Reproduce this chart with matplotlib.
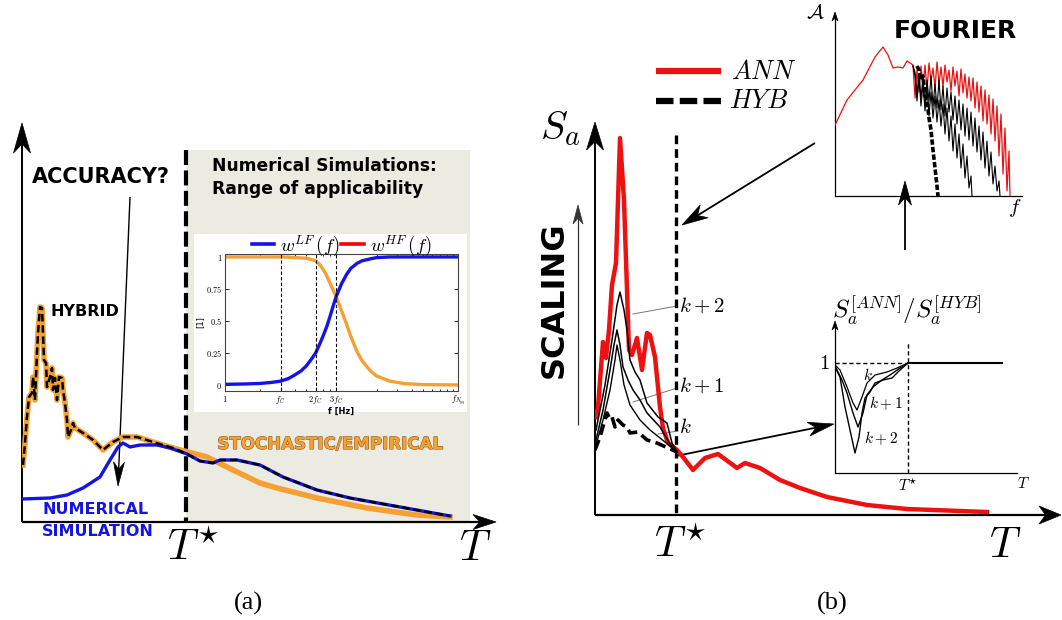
import matplotlib
matplotlib.use("Agg")
import numpy as np
import matplotlib.pyplot as plt
import matplotlib.patheffects as pe
from matplotlib.patches import Rectangle, Polygon
from matplotlib.lines import Line2D
from matplotlib.ticker import FixedLocator, FixedFormatter, LogLocator, NullFormatter

plt.rcParams["mathtext.fontset"] = "cm"
plt.rcParams["font.family"] = "DejaVu Sans"

W, H = 1062, 620
ORANGE = "#f5a033"
BLUE = "#1414e6"
RED = "#ee1111"

# ---- panel (a): schematic spectra (arbitrary units) ----
hyb_t = [1, 3, 5, 7, 10, 11, 13, 15, 16, 18, 20, 21, 22, 24, 25, 28, 30, 31, 33, 35, 37,
         40, 41, 43, 45, 46, 49, 51, 53, 61, 71, 81, 91, 101, 115, 131, 151, 165,
         178, 191, 198, 215, 238, 261, 295, 328, 378, 428]
hyb_sa = [57, 79, 105, 125, 129, 145, 122, 169, 189, 215, 214, 189, 162, 159, 135, 145, 154, 132, 144, 122, 145,
          144, 132, 119, 102, 85, 92, 99, 94, 89, 82, 72, 80, 85, 85, 80, 74, 68,
          61, 59, 62, 62, 57, 45, 32, 24, 15, 6]
stoch_t = [185, 195, 211, 238, 255, 295, 345, 395, 428]
stoch_sa = [65, 60, 52, 39, 34, 24, 14, 7, 5]
num_t = [0, 28, 45, 61, 78, 88, 96, 101, 108, 118, 135, 148, 165]
num_sa = [23, 24, 27, 34, 45, 62, 75, 79, 75, 77, 77, 74, 68]
t_star_a = 164

# inset: weighting functions
w_f = [1, 1.5, 2, 2.5, 3, 3.5, 4, 4.5, 5, 5.5, 6, 6.5, 7, 7.5, 8, 8.5, 9, 10, 11, 12,
       13.6, 15, 17.7, 20, 26, 35, 50, 100]
w_lf = [0.005, 0.008, 0.012, 0.02, 0.03, 0.05, 0.08, 0.11, 0.15, 0.2, 0.25, 0.32, 0.39, 0.46, 0.54, 0.62,
        0.69, 0.79, 0.86, 0.91, 0.95, 0.97, 0.985, 0.995, 1.0, 1.0, 1.0, 1.0]
w_hf = [1.0, 1.0, 1.0, 1.0, 1.0, 0.998, 0.995, 0.992, 0.99, 0.98, 0.97, 0.94, 0.9, 0.85, 0.79, 0.74,
        0.69, 0.58, 0.48, 0.38, 0.26, 0.19, 0.11, 0.07, 0.03, 0.01, 0.003, 0.0]
f_ticks = [1, 3, 6, 9, 100]
f_ticklabels = ["$1$", "$f_C$", "$2f_C$", "$3f_C$", "$f_{N_{yq}}$"]
w_ticks = [0, 0.25, 0.5, 0.75, 1]
w_ticklabels = ["$0$", "$0.25$", "$0.5$", "$0.75$", "$1$"]

# ---- panel (b): response spectra (arbitrary units) ----
ann_t = [1, 3, 8, 11, 14, 17, 21, 25, 29, 32, 34, 37, 42, 47, 52, 55, 60, 65, 68, 73, 82,
         88, 98, 110, 123, 142, 150, 165, 185, 205, 232, 272, 312, 392]
ann_sa = [98, 108, 173, 157, 185, 230, 252, 377, 315, 225, 165, 160, 177, 145, 182, 180, 158, 108, 87, 72, 65,
          58, 45, 57, 61, 47, 52, 47, 35, 27, 18, 10, 6, 3]
hybb_t = [0, 5, 9, 12, 15, 17, 20, 23, 28, 32, 35, 43, 52, 62, 73, 82]
hybb_sa = [65, 78, 92, 102, 96, 98, 88, 95, 90, 88, 82, 83, 75, 72, 67, 63]
k2_t = [1, 10, 17, 22, 25, 29, 32, 35, 40, 45, 48, 52, 63, 72, 77, 82]
k2_sa = [85, 130, 175, 210, 223, 205, 185, 155, 143, 135, 125, 112, 98, 92, 72, 63]
k1_t = [1, 8, 15, 19, 22, 25, 28, 33, 38, 45, 52, 65, 77, 82]
k1_sa = [75, 105, 145, 170, 185, 170, 148, 135, 125, 115, 102, 88, 68, 63]
k0_t = [1, 8, 15, 20, 22, 25, 29, 35, 45, 55, 65, 75, 82]
k0_sa = [70, 95, 125, 155, 170, 155, 130, 110, 95, 85, 77, 69, 63]

# Fourier amplitude inset
fa_red_f = [0, 12, 28, 40, 48, 53, 58, 63, 68, 72, 78,
            80, 82, 84, 86, 88, 90, 92, 94, 96, 98, 100, 102, 104, 106, 108, 110, 112, 114, 116, 118,
            120, 122, 124, 126, 128, 130, 132, 134, 136, 138, 140, 142, 144, 146, 148, 150, 152, 154,
            156, 158, 160, 162, 164, 166, 168, 170, 172, 174, 175]
fa_red = [71, 96, 116, 139, 149, 141, 128, 129, 128, 135, 131,
          98, 126, 104, 130, 110, 131, 106, 133, 115, 128, 108, 134, 112, 129, 109, 131, 114, 126, 105, 129,
          110, 125, 100, 127, 103, 122, 98, 119, 95, 118, 88, 114, 84, 110, 75, 106, 72, 101,
          62, 97, 55, 90, 40, 82, 22, 68, 5, 45, 0]
fa_k1_f = [78, 80, 82, 84, 86, 88, 90, 92, 94, 96, 98, 100, 102, 104, 106, 108, 110, 112, 114, 116,
           118, 120, 122, 124, 126, 128, 130, 132, 134, 136, 137]
fa_k1 = [130, 120, 95, 118, 90, 112, 85, 108, 80, 104, 78, 100, 74, 96, 70, 92, 62, 88, 55, 80,
         45, 72, 38, 62, 28, 52, 18, 40, 8, 20, 0]
fa_k2_f = [78, 80, 82, 84, 86, 88, 90, 92, 94, 96, 98, 100, 102, 104, 106, 108, 110, 112, 114, 116,
           118, 120, 122, 124, 126, 128, 130, 132, 134, 136, 138, 140, 142, 144, 146, 148, 150, 152,
           154, 156, 158, 160, 162, 164, 165]
fa_k2 = [130, 124, 100, 122, 98, 119, 92, 116, 95, 120, 90, 112, 88, 116, 86, 110, 80, 108, 84, 104,
         76, 100, 72, 96, 66, 92, 60, 88, 56, 84, 50, 78, 44, 70, 36, 64, 28, 55,
         20, 44, 12, 30, 5, 15, 0]
fa_hyb_f = [82, 84, 86, 88, 90, 92, 94, 96, 98, 100, 102, 103]
fa_hyb = [130, 126, 116, 120, 100, 96, 78, 66, 46, 28, 10, 0]

# ratio inset
rt_k2_t = [0, 5, 10, 15, 20, 24, 27, 30, 35, 40, 48, 57, 65, 73]
rt_k2 = [106, 96, 66, 43, 20, 36, 60, 75, 81, 90, 93, 95, 103, 110]
rt_k1_t = [0, 7, 12, 18, 23, 28, 32, 38, 47, 55, 65, 73]
rt_k1 = [107, 93, 80, 60, 46, 60, 78, 86, 93, 98, 105, 110]
rt_k0_t = [0, 5, 12, 18, 22, 27, 32, 40, 52, 62, 73]
rt_k0 = [108, 103, 86, 70, 63, 76, 90, 98, 101, 105, 110]
rt_one = 110
rt_star = 73
rt_end = 167

fig = plt.figure(figsize=(W / 100, H / 100), dpi=100)
canvas = fig.add_axes([0, 0, 1, 1])
canvas.set_xlim(0, W)
canvas.set_ylim(H, 0)
canvas.axis("off")


def box_axes(left, bottom, right, top):
    return fig.add_axes([left / W, 1 - bottom / H, (right - left) / W, (bottom - top) / H])


def sketch_axes(left, bottom, right, top):
    ax = box_axes(left, bottom, right, top)
    ax.set_xlim(0, right - left)
    ax.set_ylim(0, bottom - top)
    ax.axis("off")
    return ax


def arrow(p0, p1, lw=1.0, length=24, width=14, color="black", notch=0.3, z=5):
    # line with a "stealth" head, in canvas pixels
    p0 = np.array(p0, float)
    p1 = np.array(p1, float)
    u = (p1 - p0) / np.hypot(*(p1 - p0))
    n = np.array([-u[1], u[0]])
    back = p1 - u * length
    mid = p1 - u * length * (1 - notch)
    canvas.plot([p0[0], mid[0]], [p0[1], mid[1]], color=color, lw=lw, zorder=z,
                solid_capstyle="butt")
    canvas.add_patch(Polygon([p1, back + n * width / 2, mid, back - n * width / 2],
                             closed=True, facecolor=color, edgecolor=color, lw=0.5, zorder=z))


def mtext(x, y, s, size, **kw):
    canvas.text(x, y, s, fontsize=size, ha=kw.pop("ha", "center"), va=kw.pop("va", "center"), **kw)


# ================= panel (a) =================
canvas.add_patch(Rectangle((186, 150), 284, 372, facecolor="#ecebe2", edgecolor="none", zorder=0))
canvas.add_patch(Rectangle((194, 234), 273, 178, facecolor="white", edgecolor="none", zorder=1))
canvas.plot([186, 186], [150, 522], color="black", lw=3, dashes=(3.6, 1.3), zorder=3)

axa = sketch_axes(22, 522, 495, 122)
orange_t = [t for t in hyb_t if t <= t_star_a] + stoch_t
orange_sa = [s for t, s in zip(hyb_t, hyb_sa) if t <= t_star_a] + stoch_sa
blue_t = num_t + [t for t in hyb_t if t > t_star_a]
blue_sa = num_sa + [s for t, s in zip(hyb_t, hyb_sa) if t > t_star_a]
axa.plot(orange_t, orange_sa, color=ORANGE, lw=4, solid_joinstyle="round", zorder=2)
axa.plot(blue_t, blue_sa, color=BLUE, lw=2.4, zorder=3)
axa.plot(hyb_t, hyb_sa, color="black", lw=1.8, dashes=(3, 1.5), zorder=4)

arrow((22, 522), (22, 123), lw=1.4, length=30, width=17)
arrow((22, 522), (496, 522), lw=1.6, length=23, width=15)
arrow((130, 197), (118, 486), lw=1.0, length=24, width=11)

mtext(32, 177, "ACCURACY?", 15, ha="left", fontweight="bold")
mtext(212, 166, "Numerical Simulations:", 12.3, ha="left", fontweight="bold")
mtext(212, 189, "Range of applicability", 12.3, ha="left", fontweight="bold")
mtext(50, 311, "HYBRID", 11.5, ha="left", fontweight="bold")
mtext(330, 444, "STOCHASTIC/EMPIRICAL", 12, fontweight="bold", color=ORANGE,
      path_effects=[pe.withStroke(linewidth=0.8, foreground="#8a5a20")])
mtext(42, 510, "NUMERICAL", 11.5, ha="left", fontweight="bold", color=BLUE)
mtext(42, 531, "SIMULATION", 11.5, ha="left", fontweight="bold", color=BLUE)
mtext(193, 548, r"$T^{\star}$", 31)
mtext(475, 548, r"$T$", 31)
mtext(248, 603, "(a)", 19, family="Liberation Serif")

# inset with weights
axi = box_axes(225, 391, 458, 254)
axi.set_xscale("log")
axi.set_xlim(1, 100)
axi.set_ylim(-0.047, 1.023)
axi.plot(w_f, w_hf, color=ORANGE, lw=2.4)
axi.plot(w_f, w_lf, color=BLUE, lw=2.4)
for fv in f_ticks[1:4]:
    axi.axvline(fv, color="black", lw=0.8, dashes=(3, 2))
axi.xaxis.set_major_locator(FixedLocator(f_ticks))
axi.xaxis.set_major_formatter(FixedFormatter(f_ticklabels))
axi.xaxis.set_minor_locator(LogLocator(base=10, subs=range(2, 10)))
axi.xaxis.set_minor_formatter(NullFormatter())
axi.yaxis.set_major_locator(FixedLocator(w_ticks))
axi.yaxis.set_major_formatter(FixedFormatter(w_ticklabels))
axi.tick_params(which="both", direction="in", top=True, right=True, labelsize=6, width=0.6, pad=2)
axi.tick_params(which="major", length=3)
axi.tick_params(which="minor", length=1.5)
for sp in axi.spines.values():
    sp.set_linewidth(0.8)
    sp.set_color("#444444")
axi.set_xlabel("f [Hz]", fontsize=6, fontweight="bold", labelpad=0)
axi.set_ylabel("[1]", fontsize=6, labelpad=1)
handles = [Line2D([], [], color=BLUE, lw=2.6), Line2D([], [], color="red", lw=2.6)]
axi.legend(handles, [r"$w^{LF}\,(f)$", r"$w^{HF}\,(f)$"], ncol=2, loc="lower center",
           bbox_to_anchor=(0.5, 0.97), frameon=False, fontsize=13.5, handlelength=1.2,
           handletextpad=0.3, columnspacing=0.1, borderaxespad=0, borderpad=0)

# ================= panel (b) =================
axb = sketch_axes(595, 515, 1060, 122)
axb.plot(ann_t, ann_sa, color=RED, lw=3.2, solid_joinstyle="round", zorder=2)
axb.plot(k2_t, k2_sa, color="black", lw=1.1, zorder=3)
axb.plot(k1_t, k1_sa, color="black", lw=1.1, zorder=3)
axb.plot(k0_t, k0_sa, color="black", lw=1.0, zorder=3)
axb.plot(hybb_t, hybb_sa, color="black", lw=2.6, dashes=(3, 1.5), zorder=4)
canvas.plot([676, 676], [135, 515], color="black", lw=2.4, dashes=(2.6, 1.5), zorder=3)

arrow((595, 515), (595, 122), lw=1.4, length=28, width=17)
arrow((595, 515), (1061, 515), lw=1.6, length=22, width=18)
arrow((578, 425), (578, 205), lw=0.9, length=19, width=10, color="#333333")
arrow((815, 143), (682, 225), lw=1.3, length=26, width=15)
arrow((905, 250), (905, 181), lw=1.3, length=24, width=13)
arrow((676, 456), (834, 424), lw=1.3, length=26, width=14)

# k pointers
canvas.plot([633, 677], [314, 306], color="#777777", lw=0.7)
canvas.plot([633, 677], [402, 388], color="#777777", lw=0.7)
canvas.plot([658, 678], [434, 431], color="#777777", lw=0.7)
mtext(679, 306, r"$k+2$", 15, ha="left")
mtext(679, 386, r"$k+1$", 15, ha="left")
mtext(679, 427, r"$k$", 15, ha="left")

mtext(560, 128, r"$S_a$", 29)
mtext(554, 300, "SCALING", 23, fontweight="bold", rotation=90)
mtext(680, 545, r"$T^{\star}$", 31)
mtext(1005, 545, r"$T$", 31)
mtext(832, 603, "(b)", 19, family="Liberation Serif")

# legend of (b)
canvas.plot([656, 721], [71, 71], color=RED, lw=4.5, solid_capstyle="butt")
canvas.plot([656, 721], [101, 101], color="black", lw=4.5, dashes=(2.8, 1.0), dash_capstyle="butt")
mtext(731, 72, r"$ANN$", 19, ha="left")
mtext(729, 101, r"$HYB$", 19, ha="left")

# Fourier inset
axf = sketch_axes(835, 196, 1022, 13)
axf.plot(fa_red_f, fa_red, color=RED, lw=0.9, zorder=2)
axf.plot(fa_k2_f, fa_k2, color="black", lw=0.8, zorder=3)
axf.plot(fa_k1_f, fa_k1, color="black", lw=0.8, zorder=3)
axf.plot(fa_hyb_f, fa_hyb, color="black", lw=2.6, dashes=(1.5, 0.6), zorder=4)
canvas.plot([835, 1022], [196, 196], color="black", lw=0.9)
arrow((835, 196), (835, 12), lw=0.9, length=9, width=6)
mtext(815, 13, r"$\mathcal{A}$", 15)
mtext(955, 31, "FOURIER", 18, fontweight="bold")
mtext(1015, 208, r"$f$", 15)

# ratio inset
axr = sketch_axes(835, 473, 1017, 322)
axr.plot(rt_k2_t, rt_k2, color="black", lw=1.0)
axr.plot(rt_k1_t, rt_k1, color="black", lw=1.0)
axr.plot(rt_k0_t, rt_k0, color="black", lw=0.9)
axr.plot([0, rt_star], [rt_one, rt_one], color="black", lw=1.0, dashes=(3, 2))
axr.plot([rt_star, rt_star], [0, rt_one + 20], color="black", lw=1.0, dashes=(3, 2))
axr.plot([rt_star, rt_end], [rt_one, rt_one], color="black", lw=1.5)
canvas.plot([835, 1017], [473, 473], color="black", lw=0.9)
arrow((835, 473), (835, 321), lw=0.9, length=9, width=6)
mtext(907, 310, r"$S_a^{[ANN]}/S_a^{[HYB]}$", 18)
mtext(830, 363, r"$1$", 15, ha="right")
mtext(868, 375, r"$k$", 11)
mtext(886, 403, r"$k+1$", 11)
mtext(881, 438, r"$k+2$", 11)
mtext(908, 485, r"$T^{\star}$", 11)
mtext(1023, 484, r"$T$", 11)

fig.savefig("out.png", dpi=100)
